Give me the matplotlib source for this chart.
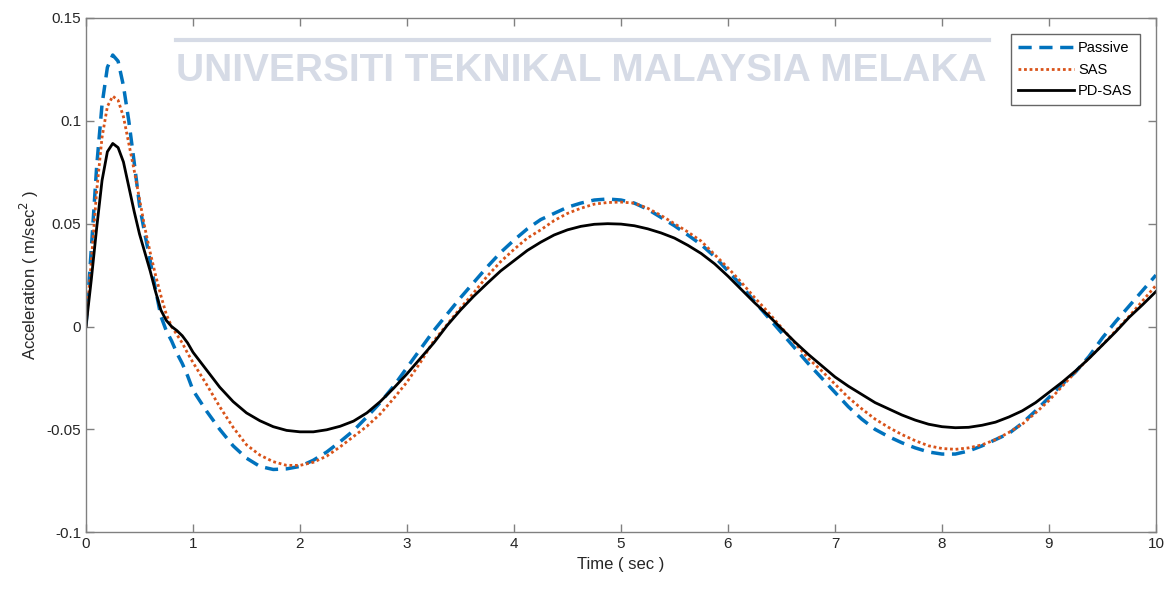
import matplotlib
matplotlib.use('Agg')
import matplotlib.pyplot as plt

plt.rcParams['font.family'] = ['Liberation Sans', 'DejaVu Sans']
plt.rcParams['axes.unicode_minus'] = False

# time samples (sec): every 0.05 s up to 1 s, then every 0.125 s
t = [round(0.05 * i, 3) for i in range(21)] + [round(1 + 0.125 * i, 3) for i in range(1, 73)]

passive = [0, 0.038, 0.078, 0.108, 0.126, 0.132, 0.129, 0.117, 0.100, 0.080,
           0.059, 0.045, 0.032, 0.018, 0.005, -0.002, -0.007, -0.013, -0.018,
           -0.024, -0.031,
           -0.041, -0.050, -0.058, -0.064, -0.068, -0.0695, -0.0692, -0.068,
           -0.065, -0.061, -0.056, -0.0506, -0.044, -0.037, -0.029, -0.020,
           -0.011, -0.002, 0.006, 0.014, 0.0215, 0.029, 0.036, 0.042,
           0.0475, 0.052, 0.055, 0.058, 0.060, 0.0615, 0.062, 0.0615,
           0.060, 0.057, 0.053, 0.049, 0.0445, 0.0398, 0.034, 0.027,
           0.020, 0.012, 0.0045, -0.003, -0.0105, -0.018, -0.025, -0.032,
           -0.039, -0.045, -0.050, -0.0535, -0.0565, -0.059, -0.061, -0.062,
           -0.062, -0.0605, -0.058, -0.055, -0.052, -0.047, -0.041, -0.0345,
           -0.028, -0.022, -0.0145, -0.0055, 0.0025, 0.010, 0.0175, 0.025]

sas = [0, 0.032, 0.066, 0.092, 0.107, 0.112, 0.110, 0.102, 0.089, 0.076,
       0.062, 0.048, 0.036, 0.025, 0.015, 0.006, 0.000, -0.004, -0.008,
       -0.013, -0.0175,
       -0.028, -0.039, -0.049, -0.0575, -0.0625, -0.0657, -0.0675, -0.0675,
       -0.066, -0.063, -0.0585, -0.0535, -0.0485, -0.0425, -0.035, -0.027,
       -0.0175, -0.007, 0.001, 0.009, 0.0165, 0.0245, 0.0315, 0.0375,
       0.043, 0.047, 0.0515, 0.055, 0.0575, 0.0595, 0.0603, 0.0605,
       0.060, 0.0575, 0.054, 0.050, 0.046, 0.0415, 0.035, 0.0285,
       0.0215, 0.014, 0.007, -0.0005, -0.008, -0.0155, -0.0215, -0.028,
       -0.0345, -0.040, -0.045, -0.049, -0.0525, -0.0555, -0.058, -0.0593,
       -0.0597, -0.059, -0.0575, -0.055, -0.0515, -0.0475, -0.042, -0.036,
       -0.029, -0.022, -0.0153, -0.0089, -0.002, 0.005, 0.0125, 0.020]

pd_sas = [0, 0.023, 0.048, 0.071, 0.085, 0.089, 0.087, 0.080, 0.068, 0.056,
          0.045, 0.036, 0.027, 0.017, 0.008, 0.003, 0.000, -0.002, -0.0045,
          -0.008, -0.0125,
          -0.021, -0.0295, -0.0365, -0.042, -0.0458, -0.0487, -0.0505, -0.0512,
          -0.0512, -0.0502, -0.0485, -0.046, -0.042, -0.0365, -0.030, -0.023,
          -0.0155, -0.008, 0.0005, 0.008, 0.0148, 0.021, 0.027, 0.032,
          0.037, 0.041, 0.0445, 0.047, 0.0487, 0.0497, 0.050, 0.0498,
          0.049, 0.0475, 0.0455, 0.043, 0.0395, 0.0355, 0.0305, 0.0245,
          0.018, 0.0115, 0.0055, -0.001, -0.0075, -0.0135, -0.019, -0.0245,
          -0.029, -0.033, -0.037, -0.040, -0.043, -0.0455, -0.0475, -0.0487,
          -0.0492, -0.049, -0.048, -0.0465, -0.044, -0.041, -0.037, -0.032,
          -0.027, -0.0215, -0.0155, -0.009, -0.0025, 0.0045, 0.0106, 0.017]

yticks = [-0.1, -0.05, 0, 0.05, 0.1, 0.15]
ytick_labels = ['-0.1', '-0.05', '0', '0.05', '0.1', '0.15']
xticks = list(range(0, 11))

fig = plt.figure(figsize=(11.7, 5.92), dpi=100)
ax = fig.add_axes([0.0735, 0.101, 0.9145, 0.8686])

# watermark behind the plot
wm = '#d6dbe6'
fig.text(0.497, 0.880, 'UNIVERSITI TEKNIKAL MALAYSIA MELAKA', color=wm,
         fontsize=28, fontweight='bold', ha='center', va='center', zorder=0)
fig.add_artist(plt.Line2D([0.15, 0.845], [0.932, 0.932], color=wm, lw=3, zorder=0))
ax.set_facecolor('none')

ax.plot(t, passive, color='#0072BD', ls=(0, (3.8, 2.2)), lw=2.5, label='Passive')
ax.plot(t, sas, color='#D95319', ls=(0, (1, 1)), lw=2.0, label='SAS')
ax.plot(t, pd_sas, color='black', ls='-', lw=2.0, label='PD-SAS')

ax.set_xlim(0, 10)
ax.set_ylim(-0.1, 0.15)
ax.set_xticks(xticks)
ax.set_yticks(yticks)
ax.set_yticklabels(ytick_labels)

for s in ax.spines.values():
    s.set_color('#808080')
    s.set_linewidth(1.0)
ax.tick_params(direction='in', top=True, right=True, length=6, width=1,
               color='#808080', labelcolor='#262626', labelsize=11)

ax.set_xlabel('Time ( sec )', fontsize=12, color='#262626')
ax.set_ylabel('Acceleration ( m/sec$^2$ )', fontsize=12, color='#262626')

leg = ax.legend(loc='upper right', fontsize=10.5, frameon=True, fancybox=False,
                handlelength=3.8, borderaxespad=1.1, labelspacing=0.5,
                handletextpad=0.3, borderpad=0.5)
leg.get_frame().set_edgecolor('#404040')
leg.get_frame().set_linewidth(1.0)

fig.savefig('out.png', dpi=100)
